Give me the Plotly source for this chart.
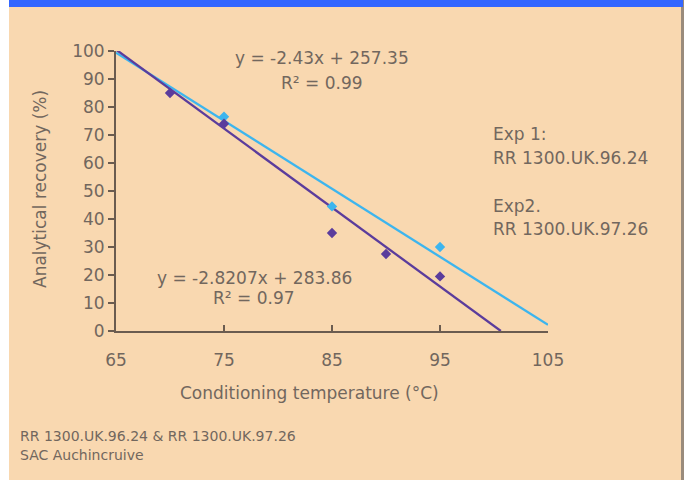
import plotly.graph_objects as go

# ---- data ----
exp1_x = [75, 85, 95]
exp1_y = [76.5, 44.5, 30]
exp2_x = [70, 75, 85, 90, 95]
exp2_y = [85, 74, 35, 27.5, 19.5]

exp1_slope, exp1_intercept = -2.43, 257.35
exp2_slope, exp2_intercept = -2.8207, 283.86
exp1_trend_x = [65, 105]
exp2_trend_x = [65, 100.63]

x_ticks = [65, 75, 85, 95, 105]
y_ticks = [0, 10, 20, 30, 40, 50, 60, 70, 80, 90, 100]

# ---- layout geometry ----
W, H = 688, 480
L, R, T, B = 116, 140, 51, 149
PW, PH = W - L - R, H - T - B

def px(x):
    return (x - L) / PW

def py(y):
    return (H - B - y) / PH

PEACH = "#F9D8B0"
TXT = "#72675e"
AX = "#6b5c50"
BLUE = "#3DB5EE"
PURPLE = "#5B3C9C"
FONT = "DejaVu Sans"

fig = go.Figure()

fig.add_trace(go.Scatter(
    x=exp1_trend_x, y=[exp1_slope * v + exp1_intercept for v in exp1_trend_x],
    mode="lines", line=dict(color=BLUE, width=2.3), showlegend=False, hoverinfo="skip"))
fig.add_trace(go.Scatter(
    x=exp2_trend_x, y=[exp2_slope * v + exp2_intercept for v in exp2_trend_x],
    mode="lines", line=dict(color=PURPLE, width=2.3), showlegend=False, hoverinfo="skip"))
fig.add_trace(go.Scatter(
    x=exp1_x, y=exp1_y, mode="markers",
    marker=dict(symbol="diamond", size=8, color=BLUE), showlegend=False, name="Exp 1"))
fig.add_trace(go.Scatter(
    x=exp2_x, y=exp2_y, mode="markers",
    marker=dict(symbol="diamond", size=8, color=PURPLE), showlegend=False, name="Exp 2"))

shapes = [
    dict(type="rect", xref="paper", yref="paper", x0=px(-2), x1=px(9), y0=py(H + 2), y1=py(-2),
         fillcolor="white", line_width=0, layer="below"),
    dict(type="rect", xref="paper", yref="paper", x0=px(681), x1=px(684), y0=py(H + 2), y1=py(-2),
         fillcolor="#9a8b7c", line_width=0, layer="below"),
    dict(type="rect", xref="paper", yref="paper", x0=px(684), x1=px(W + 2), y0=py(H + 2), y1=py(-2),
         fillcolor="white", line_width=0, layer="below"),
    dict(type="rect", xref="paper", yref="paper", x0=px(9), x1=px(683), y0=py(7), y1=py(-2),
         fillcolor="#3366FF", line_width=0, layer="below"),
]

def ann(text, x, y, size, xanchor="center"):
    return dict(text=text, xref="paper", yref="paper", x=px(x), y=py(y),
                xanchor=xanchor, yanchor="middle", showarrow=False,
                font=dict(family=FONT, size=size, color=TXT))

annotations = [
    ann("y = -2.43x + 257.35", 322, 58, 17),
    ann("R² = 0.99", 322, 83, 17),
    ann("y = -2.8207x + 283.86", 254, 278, 17),
    ann("R² = 0.97", 254, 298, 17),
    ann("Exp 1:", 491, 134, 17, "left"),
    ann("RR 1300.UK.96.24", 491, 158, 17, "left"),
    ann("Exp2.", 491, 206, 17, "left"),
    ann("RR 1300.UK.97.26", 491, 229, 17, "left"),
    ann("RR 1300.UK.96.24 &amp; RR 1300.UK.97.26", 18, 436, 14, "left"),
    ann("SAC Auchincruive", 18, 455, 14, "left"),
    ann("Conditioning temperature (°C)", 309, 393, 17),
    ann("Analytical recovery (%)", 40, 189, 17),
]
annotations[-1]["textangle"] = -90

fig.update_layout(
    width=W, height=H,
    margin=dict(l=L, r=R, t=T, b=B),
    paper_bgcolor=PEACH, plot_bgcolor=PEACH,
    font=dict(family=FONT, color=TXT),
    shapes=shapes, annotations=annotations,
    xaxis=dict(range=[65, 105], tickvals=x_ticks, ticktext=[str(v) for v in x_ticks],
               showgrid=False, zeroline=False, showline=True, linecolor=AX, linewidth=2,
               ticks="inside", ticklen=6, tickcolor=AX, tickwidth=1.5,
               tickfont=dict(family=FONT, size=17, color=TXT), ticklabelstandoff=13),
    yaxis=dict(range=[0, 100], tickvals=y_ticks, showgrid=False, zeroline=False,
               showline=True, linecolor=AX, linewidth=2,
               ticks="outside", ticklen=6, tickcolor=AX, tickwidth=1.5,
               tickfont=dict(family=FONT, size=17, color=TXT)),
)

for tr in fig.data:
    tr.cliponaxis = False

fig.write_html("out.html", config={"displayModeBar": False},
               post_script="document.body.style.margin='0';document.body.style.overflow='hidden';")
